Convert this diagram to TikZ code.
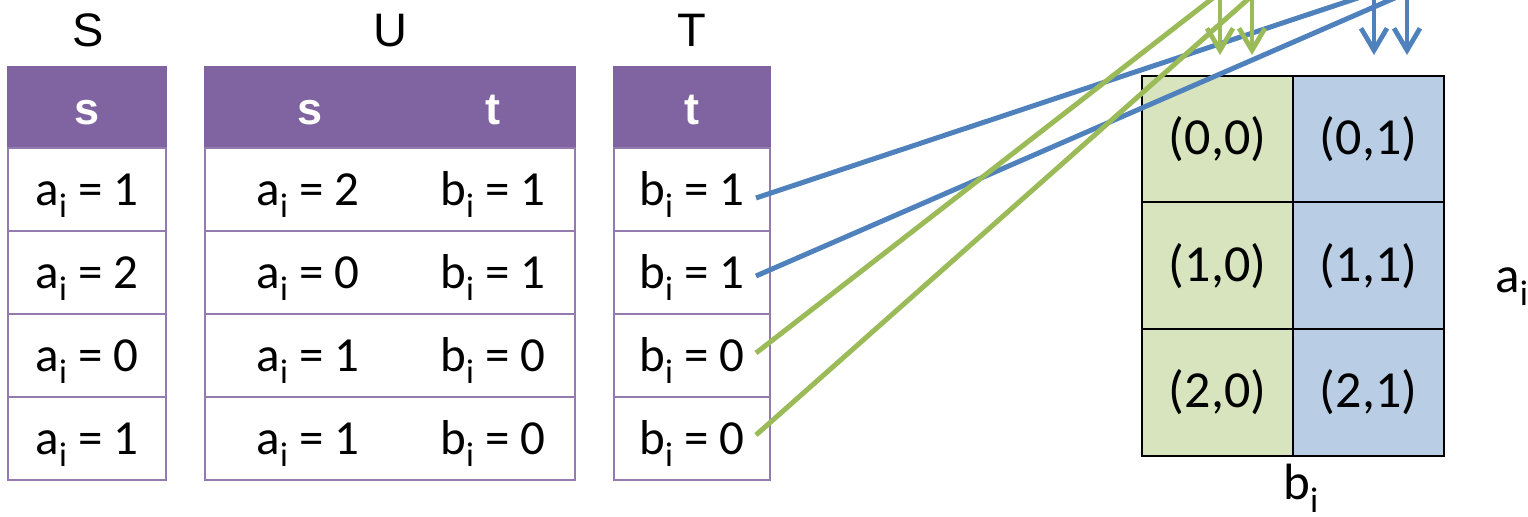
\documentclass[tikz,border=0pt]{standalone}
\usepackage{fontspec}
\setmainfont{Carlito}
\newfontfamily\headfont{Liberation Sans}
\usetikzlibrary{arrows.meta}
\definecolor{tabpurple}{HTML}{8064A2}
\definecolor{linkblue}{HTML}{4F81BD}
\definecolor{linkgreen}{HTML}{9BBB59}
\definecolor{cellgreen}{HTML}{D7E4BD}
\definecolor{cellblue}{HTML}{B9CDE5}
\newcommand{\subi}{\raisebox{-0.5ex}{\scalebox{0.7}{i}}}

\begin{document}
\begin{tikzpicture}[
    x=0.5pt, y=-0.5pt,
    title/.style={anchor=base, inner sep=0pt, font=\headfont\fontsize{23.5}{23.5}\selectfont},
    head/.style={rectangle, fill=tabpurple, draw=tabpurple, line width=1pt, minimum height=40.5pt, inner sep=0pt},
    headtext/.style={anchor=base, text=white, inner sep=0pt, font=\headfont\bfseries\fontsize{22.5}{22.5}\selectfont},
    row/.style={rectangle, draw=tabpurple!85, line width=1pt, fill=white, minimum height=41.5pt, inner sep=0pt},
    rowtext/.style={anchor=base, inner sep=0pt, font=\fontsize{24.5}{24.5}\selectfont},
    cell/.style={rectangle, draw=black, line width=1pt, minimum width=75.5pt, minimum height=63.5pt, inner sep=0pt, font=\fontsize{26}{26}\selectfont},
    axis/.style={inner sep=0pt, font=\fontsize{25.5}{25.5}\selectfont},
    link/.style={line width=2.5pt},
    drop/.style={-{Straight Barb[length=11pt, width=13pt]}, line width=2.4pt}
]
\useasboundingbox (0,0) rectangle (1528,517);
\clip (0,0) rectangle (1528,517);

% titles
\node[title] (stitle) at (88,47) {S};
\node[title] (utitle) at (390,47) {U};
\node[title] (ttitle) at (692,47) {T};

% table S
\node[head, minimum width=79pt] (sh) at (87,107.5) {};
\node[headtext] at (87,125) {s};
\node[row, minimum width=79pt] (s1) at (87,189.5) {};
\node[row, minimum width=79pt] (s2) at (87,272.5) {};
\node[row, minimum width=79pt] (s3) at (87,355.5) {};
\node[row, minimum width=79pt] (s4) at (87,438.5) {};
\node[rowtext] at (87,206) {a\subi{} = 1};
\node[rowtext] at (87,289) {a\subi{} = 2};
\node[rowtext] at (87,372) {a\subi{} = 0};
\node[rowtext] at (87,455) {a\subi{} = 1};

% table U
\node[head, minimum width=185pt] (uh) at (390,107.5) {};
\node[headtext] at (310,125) {s};
\node[headtext] at (493,125) {t};
\node[row, minimum width=185pt] (u1) at (390,189.5) {};
\node[row, minimum width=185pt] (u2) at (390,272.5) {};
\node[row, minimum width=185pt] (u3) at (390,355.5) {};
\node[row, minimum width=185pt] (u4) at (390,438.5) {};
\node[rowtext] at (308,206) {a\subi{} = 2};
\node[rowtext] at (493,206) {b\subi{} = 1};
\node[rowtext] at (308,289) {a\subi{} = 0};
\node[rowtext] at (493,289) {b\subi{} = 1};
\node[rowtext] at (308,372) {a\subi{} = 1};
\node[rowtext] at (493,372) {b\subi{} = 0};
\node[rowtext] at (308,455) {a\subi{} = 1};
\node[rowtext] at (493,455) {b\subi{} = 0};

% table T
\node[head, minimum width=78pt] (th) at (692,107.5) {};
\node[headtext] at (692,125) {t};
\node[row, minimum width=78pt] (t1) at (692,189.5) {};
\node[row, minimum width=78pt] (t2) at (692,272.5) {};
\node[row, minimum width=78pt] (t3) at (692,355.5) {};
\node[row, minimum width=78pt] (t4) at (692,438.5) {};
\node[rowtext] at (692,206) {b\subi{} = 1};
\node[rowtext] at (692,289) {b\subi{} = 1};
\node[rowtext] at (692,372) {b\subi{} = 0};
\node[rowtext] at (692,455) {b\subi{} = 0};

% grid of (a_i,b_i)
\node[cell, fill=cellgreen] (g00) at (1217.5,139.5) {(0,0)};
\node[cell, fill=cellblue]  (g01) at (1368.5,139.5) {(0,1)};
\node[cell, fill=cellgreen] (g10) at (1217.5,266) {(1,0)};
\node[cell, fill=cellblue]  (g11) at (1368.5,266) {(1,1)};
\node[cell, fill=cellgreen] (g20) at (1217.5,392.5) {(2,0)};
\node[cell, fill=cellblue]  (g21) at (1368.5,392.5) {(2,1)};
\node[axis, anchor=base west] (alab) at (1495,293) {a\subi};
\node[axis, anchor=base west] (blab) at (1283,500) {b\subi};

% links leaving the picture
\coordinate (far1) at (1442,-30);
\coordinate (far2) at (1459,-30);
\coordinate (far3) at (1249,-30);
\coordinate (far4) at (1281,-30);
\draw[link, linkblue]  ([xshift=-7.5pt, yshift=-4.25pt]t1.east) -- (far1);
\draw[link, linkblue]  ([xshift=-7.5pt, yshift=-1.75pt]t2.east) -- (far2);
\draw[link, linkgreen] ([xshift=-7.5pt, yshift=1.25pt]t3.east) -- (far3);
\draw[link, linkgreen] ([xshift=-7.5pt, yshift=1.75pt]t4.east) -- (far4);

% arrows coming back down
\coordinate (gtop1) at (1220,-30);
\coordinate (gtop2) at (1252,-30);
\coordinate (btop1) at (1374,-30);
\coordinate (btop2) at (1407,-30);
\coordinate (gtip1) at (1220,55);
\coordinate (gtip2) at (1252,55);
\coordinate (btip1) at (1374,55);
\coordinate (btip2) at (1407,55);
\draw[drop, linkgreen] (gtop1) -- (gtip1);
\draw[drop, linkgreen] (gtop2) -- (gtip2);
\draw[drop, linkblue]  (btop1) -- (btip1);
\draw[drop, linkblue]  (btop2) -- (btip2);

\end{tikzpicture}
\end{document}
